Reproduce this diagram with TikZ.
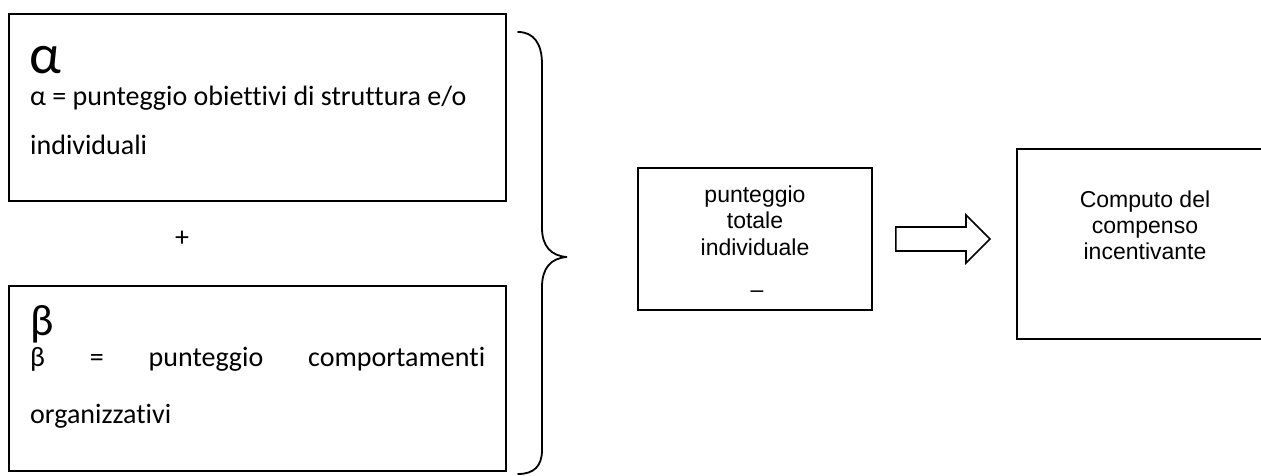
\documentclass[tikz,border=0pt]{standalone}
\usepackage{fontspec}
\setmainfont{Liberation Sans}
\newfontfamily\calib[Ligatures=CommonOff]{Carlito}
\usetikzlibrary{calc}
\begin{document}
\begin{tikzpicture}[x=1pt,y=-1pt,
  boxst/.style={draw=black, line width=1.6pt, inner sep=0pt},
  caltext/.style={anchor=base west, inner sep=0pt, font=\calib\fontsize{28}{34}\selectfont},
  artext/.style={anchor=base, inner sep=0pt, font=\fontsize{23}{27}\selectfont},
  bracest/.style={draw=black, line width=1.8pt, line cap=round},
  arrowst/.style={draw=black, line width=1.6pt, line join=miter}]
\useasboundingbox (0,0) rectangle (1261,476);
% alpha box
\node[boxst, anchor=north west, minimum width=497pt, minimum height=187pt] (A) at (8,13) {};
\node[caltext, font=\calib\fontsize{56}{60}\selectfont] (abig) at (29,74) {α};
\node[caltext] (aline1) at (30,106) {α = punteggio obiettivi di struttura e/o};
\node[caltext] (aline2) at (30,154) {individuali};
% plus
\node[caltext, anchor=center] (plus) at (182,239) {+};
% beta box
\node[boxst, anchor=north west, minimum width=497pt, minimum height=185pt] (B) at (8,285) {};
\node[caltext, font=\calib\fontsize{44}{48}\selectfont] (bbig) at (30,335) {β};
\node[caltext] (bline1) at (30,366) {\hbox to 455pt{β\hfill=\hfill punteggio\hfill comportamenti}};
\node[caltext] (bline2) at (30,423) {organizzativi};
% brace
\coordinate (brtop) at (518,32);
\coordinate (brtip) at (567,257);
\coordinate (brbot) at (518,474);
\draw[bracest] (brtop) .. controls (534,32) and (542,44) .. (542,64) -- (542,228)
  .. controls (542,246) and (551,256) .. (brtip)
  .. controls (551,258) and (542,268) .. (542,287) -- (542,450)
  .. controls (542,466) and (534,474) .. (brbot);
% middle box
\node[boxst, minimum width=234pt, minimum height=142pt] (M) at (755,239) {};
\node[artext] (m1) at (755,202) {punteggio};
\node[artext] (m2) at (755,228) {totale};
\node[artext] (m3) at (755,255) {individuale};
\node[artext] (m4) at (757,297) {–};
% right box (clipped at the page edge)
\begin{scope}
\clip (0,0) rectangle (1261,476);
\node[boxst, anchor=north west, minimum width=270pt, minimum height=190pt] (R) at (1016,148) {};
\end{scope}
\node[artext] (r1) at (1145,207) {Computo del};
\node[artext] (r2) at (1145,233) {compenso};
\node[artext] (r3) at (1145,259) {incentivante};
% hollow arrow between M and R
\coordinate (a0) at ($(M.east)+(23,0)$);
\coordinate (a1) at ($(R.west |- M.east)+(-26,0)$);
\draw[arrowst] ($(a0)+(0,-12)$) -- ($(a1)+(-24,-12)$) -- ($(a1)+(-24,-24)$) -- (a1)
  -- ($(a1)+(-24,24)$) -- ($(a1)+(-24,12)$) -- ($(a0)+(0,12)$) -- cycle;
\end{tikzpicture}
\end{document}
